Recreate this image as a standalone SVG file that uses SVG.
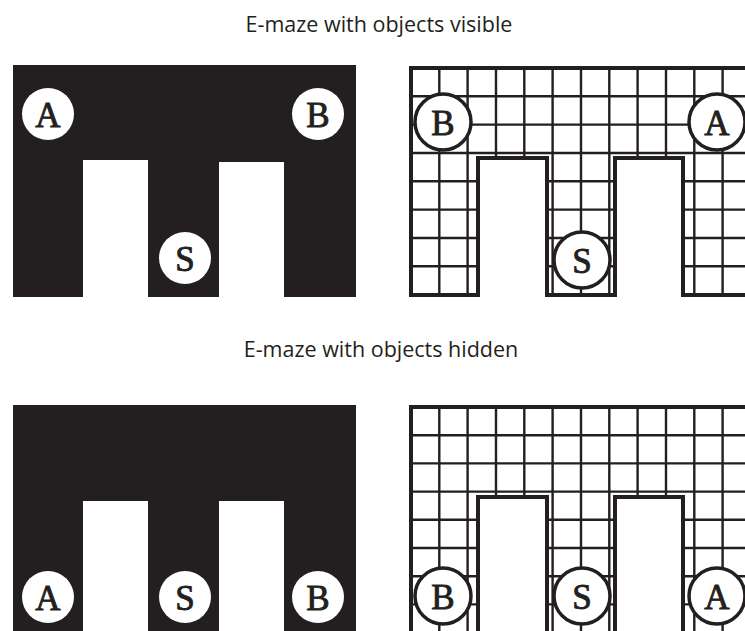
<svg xmlns="http://www.w3.org/2000/svg" width="745" height="631" viewBox="0 0 745 631">
<style>
.title{font-family:"Open Sans","Noto Sans","Liberation Sans",sans-serif;font-size:21.5px;fill:#231f20;text-anchor:middle}
.lbl{font-family:"Liberation Serif","DejaVu Serif",serif;font-size:35px;fill:#231f20;text-anchor:middle;stroke:#231f20;stroke-width:0.9}
.blk{fill:#231f20}
.wc{fill:#ffffff}
.grid{stroke:#231f20;stroke-width:2.4;fill:none}
.outl{stroke:#231f20;stroke-width:4;fill:none;stroke-linejoin:miter}
.oc{fill:#ffffff;stroke:#231f20;stroke-width:3.5}
</style>
<rect width="745" height="631" fill="#ffffff"/>
<text class="title" x="379" y="32">E-maze with objects visible</text>
<text class="title" x="381" y="357">E-maze with objects hidden</text>

<g id="visible-black">
<rect class="blk" x="13" y="65" width="343" height="232"/>
<rect class="wc" x="83" y="160" width="65" height="138"/>
<rect class="wc" x="219" y="162" width="65" height="136"/>
<circle class="wc" cx="48" cy="114" r="26"/>
<text class="lbl" x="48" y="127">A</text>
<circle class="wc" cx="318" cy="114" r="26"/>
<text class="lbl" x="318" y="127">B</text>
<circle class="wc" cx="185" cy="258" r="26"/>
<text class="lbl" x="185" y="271">S</text>
</g>

<g id="visible-grid">
<g class="grid">
<path d="M439.3,68V295M467.6,68V295M496,68V295M524.3,68V295M552.6,68V295M581,68V295M609.3,68V295M637.6,68V295M666,68V295M694.3,68V295M722.6,68V295"/>
<path d="M411,96.3H760M411,124.6H760M411,153H760M411,181.3H760M411,209.6H760M411,238H760M411,266.3H760"/>
</g>
<rect class="wc" x="478" y="158" width="69" height="140"/>
<rect class="wc" x="615" y="158" width="68" height="140"/>
<path class="outl" d="M760,68H411V295H478V158H547V295H615V158H683V295H760"/>
<circle class="oc" cx="443" cy="122" r="28"/>
<text class="lbl" x="443" y="135">B</text>
<circle class="oc" cx="717" cy="122" r="28"/>
<text class="lbl" x="717" y="135">A</text>
<circle class="oc" cx="582" cy="260" r="28"/>
<text class="lbl" x="582" y="273">S</text>
</g>

<g id="hidden-black">
<rect class="blk" x="13" y="405" width="343" height="230"/>
<rect class="wc" x="83" y="501" width="65" height="135"/>
<rect class="wc" x="219" y="501" width="65" height="135"/>
<circle class="wc" cx="48" cy="597" r="26"/>
<text class="lbl" x="48" y="610">A</text>
<circle class="wc" cx="185" cy="597" r="26"/>
<text class="lbl" x="185" y="610">S</text>
<circle class="wc" cx="318" cy="597" r="26"/>
<text class="lbl" x="318" y="610">B</text>
</g>

<g id="hidden-grid">
<g class="grid">
<path d="M439.3,407V640M467.6,407V640M496,407V640M524.3,407V640M552.6,407V640M581,407V640M609.3,407V640M637.6,407V640M666,407V640M694.3,407V640M722.6,407V640"/>
<path d="M411,435.2H760M411,463.4H760M411,491.6H760M411,519.8H760M411,548H760M411,576.2H760M411,604.4H760"/>
</g>
<rect class="wc" x="478" y="497" width="69" height="140"/>
<rect class="wc" x="615" y="497" width="68" height="140"/>
<path class="outl" d="M760,407H411V640M478,640V497H547V640M615,640V497H683V640"/>
<circle class="oc" cx="443" cy="596" r="28"/>
<text class="lbl" x="443" y="609">B</text>
<circle class="oc" cx="582" cy="596" r="28"/>
<text class="lbl" x="582" y="609">S</text>
<circle class="oc" cx="717" cy="596" r="28"/>
<text class="lbl" x="717" y="609">A</text>
</g>
</svg>
